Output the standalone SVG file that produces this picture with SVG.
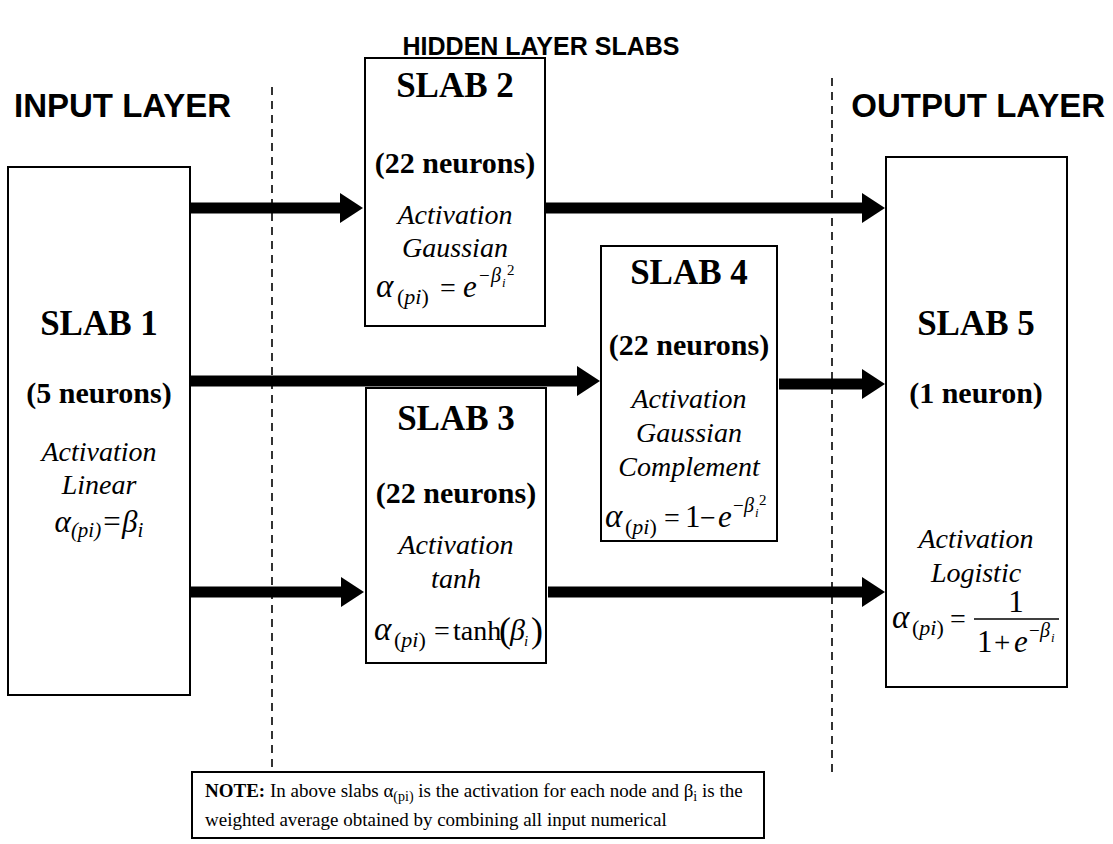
<svg xmlns="http://www.w3.org/2000/svg" width="1113" height="844" viewBox="0 0 1113 844">
<defs>
<style>
.box{fill:#fff;stroke:#000;stroke-width:2}
.dash{stroke:#000;stroke-width:1.6;stroke-dasharray:8,6;fill:none}
.arr{stroke:#000;stroke-width:11;fill:none;marker-end:url(#ah)}
.lbl{font-family:"Liberation Sans",Arial,sans-serif;font-weight:bold;font-size:33px;fill:#000}
.slab{font-family:"Liberation Serif","Times New Roman",serif;font-weight:bold;font-size:35px;text-anchor:middle}
.neu{font-family:"Liberation Serif","Times New Roman",serif;font-weight:bold;font-size:30px;text-anchor:middle}
.it{font-family:"Liberation Serif","Times New Roman",serif;font-style:italic;font-size:28px;text-anchor:middle}
.mi{font-family:"Liberation Serif","Times New Roman",serif;font-style:italic}
.mr{font-family:"Liberation Serif","Times New Roman",serif}
.note{font-family:"Liberation Serif","Times New Roman",serif;font-size:19px}
</style>
<marker id="ah" markerUnits="userSpaceOnUse" markerWidth="26" markerHeight="32" refX="1" refY="15" orient="auto">
<path d="M0,0 L23,15 L0,30 z" fill="#000"/>
</marker>
</defs>
<rect width="1113" height="844" fill="#fff"/>

<g id="labels">
<text class="lbl" x="541" y="55" text-anchor="middle" style="font-size:25px">HIDDEN LAYER SLABS</text>
<text class="lbl" x="14" y="117">INPUT LAYER</text>
<text class="lbl" x="1105" y="117" text-anchor="end">OUTPUT LAYER</text>
</g>

<g id="dividers">
<line class="dash" x1="272" y1="87" x2="272" y2="772"/>
<line class="dash" x1="832" y1="78" x2="832" y2="772"/>
</g>

<g id="connectors">
<line class="arr" x1="190" y1="208" x2="341" y2="208"/>
<line class="arr" x1="546" y1="208" x2="863" y2="208"/>
<line class="arr" x1="190" y1="381" x2="578" y2="381"/>
<line class="arr" x1="779" y1="384" x2="863" y2="384"/>
<line class="arr" x1="190" y1="592" x2="342" y2="592"/>
<line class="arr" x1="548" y1="592" x2="863" y2="592"/>
</g>

<g id="slab1">
<rect class="box" x="8" y="167" width="182" height="528"/>
<text class="slab" x="99" y="335">SLAB 1</text>
<text class="neu" x="99" y="403">(5 neurons)</text>
<text class="it" x="99" y="461">Activation</text>
<text class="it" x="99" y="494">Linear</text>
<text class="it" x="99" y="532" style="font-size:31px">α<tspan font-size="21" dy="5">(pi)</tspan><tspan dy="-5">=β</tspan><tspan font-size="21" dy="5">i</tspan></text>
</g>

<g id="slab2">
<rect class="box" x="365" y="58" width="180" height="268"/>
<text class="slab" x="455" y="97">SLAB 2</text>
<text class="neu" x="455" y="173">(22 neurons)</text>
<text class="it" x="455" y="224">Activation</text>
<text class="it" x="455" y="257">Gaussian</text>
<text class="mi" x="376" y="297" font-size="33">α</text>
<text class="mr" x="397" y="304" font-size="22">(<tspan class="mi">pi</tspan>)</text>
<text class="mr" x="440" y="297" font-size="28">=</text>
<text class="mi" x="463" y="297" font-size="31">e</text>
<text class="mr" x="479" y="282" font-size="19">−</text>
<text class="mi" x="491" y="282" font-size="20">β</text>
<text class="mi" x="502" y="287" font-size="13">i</text>
<text class="mr" x="507" y="275" font-size="15">2</text>
</g>

<g id="slab3">
<rect class="box" x="366" y="388" width="180" height="275"/>
<text class="slab" x="456" y="430">SLAB 3</text>
<text class="neu" x="456" y="503">(22 neurons)</text>
<text class="it" x="456" y="554">Activation</text>
<text class="it" x="456" y="588">tanh</text>
<text class="mi" x="374" y="640" font-size="33">α</text>
<text class="mr" x="394" y="647" font-size="22">(<tspan class="mi">pi</tspan>)</text>
<text class="mr" x="434" y="640" font-size="28">=</text>
<text class="mr" x="453" y="640" font-size="28">tanh</text>
<text class="mr" x="499" y="642" font-size="36">(</text>
<text class="mi" x="510" y="640" font-size="30">β</text>
<text class="mi" x="524" y="646" font-size="15">i</text>
<text class="mr" x="531" y="642" font-size="36">)</text>
</g>

<g id="slab4">
<rect class="box" x="601" y="246" width="176" height="295"/>
<text class="slab" x="689" y="284">SLAB 4</text>
<text class="neu" x="689" y="355">(22 neurons)</text>
<text class="it" x="689" y="408">Activation</text>
<text class="it" x="689" y="442">Gaussian</text>
<text class="it" x="689" y="476">Complement</text>
<text class="mi" x="605" y="527" font-size="33">α</text>
<text class="mr" x="625" y="534" font-size="22">(<tspan class="mi">pi</tspan>)</text>
<text class="mr" x="664" y="527" font-size="28">=</text>
<text class="mr" x="685" y="527" font-size="31">1</text>
<text class="mr" x="700" y="527" font-size="28">−</text>
<text class="mi" x="718" y="527" font-size="31">e</text>
<text class="mr" x="733" y="512" font-size="19">−</text>
<text class="mi" x="744" y="512" font-size="20">β</text>
<text class="mi" x="755" y="517" font-size="13">i</text>
<text class="mr" x="759" y="505" font-size="15">2</text>
</g>

<g id="slab5">
<rect class="box" x="886" y="157" width="181" height="530"/>
<text class="slab" x="976" y="335">SLAB 5</text>
<text class="neu" x="976" y="403">(1 neuron)</text>
<text class="it" x="976" y="548">Activation</text>
<text class="it" x="976" y="582">Logistic</text>
<text class="mi" x="892" y="628" font-size="33">α</text>
<text class="mr" x="912" y="635" font-size="22">(<tspan class="mi">pi</tspan>)</text>
<text class="mr" x="950" y="628" font-size="28">=</text>
<line x1="974" y1="619" x2="1059" y2="619" stroke="#000" stroke-width="1.5"/>
<text class="mr" x="1016" y="612" font-size="31" text-anchor="middle">1</text>
<text class="mr" x="977" y="652" font-size="31">1</text>
<text class="mr" x="994" y="652" font-size="29">+</text>
<text class="mi" x="1014" y="652" font-size="31">e</text>
<text class="mr" x="1029" y="637" font-size="19">−</text>
<text class="mi" x="1040" y="637" font-size="20">β</text>
<text class="mi" x="1051" y="642" font-size="13">i</text>
</g>

<g id="note">
<rect class="box" x="192" y="772" width="572" height="66"/>
<text class="note" x="205" y="797"><tspan font-weight="bold">NOTE:</tspan> In above slabs α<tspan font-size="14" dy="4">(pi)</tspan><tspan dy="-4"> is the activation for each node and β</tspan><tspan font-size="14" dy="4">i</tspan><tspan dy="-4"> is the</tspan></text>
<text class="note" x="205" y="826">weighted average obtained by combining all input numerical</text>
</g>
</svg>
